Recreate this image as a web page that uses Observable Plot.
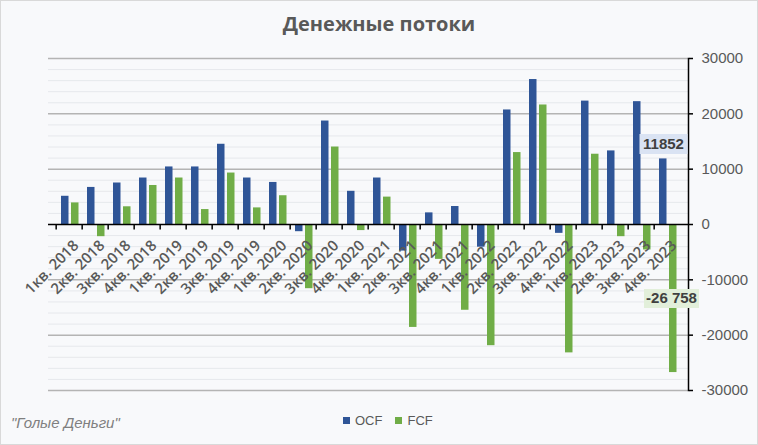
<!DOCTYPE html>
<html>
<head>
<meta charset="utf-8">
<script src="https://cdn.jsdelivr.net/npm/d3@7"></script>
<script src="https://cdn.jsdelivr.net/npm/@observablehq/plot@0.6"></script>
<style>
  html, body { margin: 0; padding: 0; background: #f8f9fb; }
  #wrap { position: relative; width: 758px; height: 445px; background: #f8f9fb; box-shadow: inset 0 0 0 1px #d9d9d9; overflow: hidden; font-family: "Liberation Sans", Arial, sans-serif; }
  #title { position: absolute; left: 0; top: 10px; width: 758px; text-align: center; font-family: "Open Sans", "Liberation Sans", sans-serif; font-weight: 700; font-size: 20px; color: #595959; line-height: 28px; }
  #chart { position: absolute; left: 0; top: 48px; }
  #source { position: absolute; left: 11px; top: 414px; font-family: "Liberation Sans Narrow", "Arial Narrow", "Liberation Sans", sans-serif; font-style: italic; font-size: 15px; color: #7f7f7f; }
  #legend { position: absolute; left: 343px; top: 413px; font-family: "Liberation Sans Narrow", "Arial Narrow", "Liberation Sans", sans-serif; font-size: 13px; color: #595959; display: flex; align-items: center; gap: 0; }
  .sw { display: inline-block; width: 7px; height: 7px; margin-right: 5px; }
  .item { display: inline-flex; align-items: center; margin-right: 13px; }
</style>
</head>
<body>
<div id="wrap">
  <div id="title">Денежные потоки</div>
  <div id="chart"></div>
  <div id="source">"Голые Деньги"</div>
  <div id="legend"></div>
</div>
<script>
const categories = ["1кв. 2018","2кв. 2018","3кв. 2018","4кв. 2018",
  "1кв. 2019","2кв. 2019","3кв. 2019","4кв. 2019",
  "1кв. 2020","2кв. 2020","3кв. 2020","4кв. 2020",
  "1кв. 2021","2кв. 2021","3кв. 2021","4кв. 2021",
  "1кв. 2022","2кв. 2022","3кв. 2022","4кв. 2022",
  "1кв. 2023","2кв. 2023","3кв. 2023","4кв. 2023"];
const ocf = [5100, 6700, 7500, 8400, 10400, 10400, 14500, 8400,
  7600, -1300, 18700, 6000, 8400, -4800, 2100, 3250,
  -4100, 20700, 26200, -1600, 22300, 13300, 22200, 11852];
const fcf = [3900, -2200, 3200, 7050, 8400, 2700, 9300, 3000,
  5200, -11600, 14000, -1100, 4950, -18600, -6300, -15500,
  -21900, 13000, 21600, -23200, 12700, -2200, -4600, -26758];
const seriesNames = ["OCF", "FCF"];
const seriesColors = ["#2f5597", "#70ad47"];
const yTicks = [-30000, -20000, -10000, 0, 10000, 20000, 30000];
const yMajorGrid = [-30000, -20000, -10000, 10000, 20000, 30000];
const yMinorGrid = [-28000, -26000, -24000, -22000, -18000, -16000, -14000, -12000,
  -8000, -6000, -4000, -2000, 2000, 4000, 6000, 8000,
  12000, 14000, 16000, 18000, 22000, 24000, 26000, 28000];
const annotations = [
  {q: "4кв. 2023", series: "OCF", value: 11852, label: "11852", box: "#dae3f3"},
  {q: "4кв. 2023", series: "FCF", value: -26758, label: "-26 758", box: "#e2efda"}
];

const rows = categories.map((q, i) => ({q, ocf: ocf[i], fcf: fcf[i]}));

const W = 758, H = 360, ML = 48, MR = 70, MT = 10, MB = 18;
const bw = (W - ML - MR) / categories.length;

const tickSymbol = { draw(ctx) { ctx.moveTo(0, 0); ctx.lineTo(0, 5); } };
const boxSymbol = (w, h) => ({ draw(ctx) { ctx.rect(-w / 2, -h / 2, w, h); } });

const ocfAnn = annotations.filter(a => a.series === "OCF");
const fcfAnn = annotations.filter(a => a.series === "FCF");

const chart = Plot.plot({
  width: W, height: H,
  marginLeft: ML, marginRight: MR, marginTop: MT, marginBottom: MB,
  style: { background: "transparent", fontFamily: "'Liberation Sans', Arial, sans-serif", overflow: "visible" },
  x: { type: "band", domain: categories, padding: 0, axis: null },
  y: { domain: [-30000, 30000], axis: null, label: null },
  marks: [
    Plot.ruleY(yMinorGrid, { stroke: "#e6e8ec", strokeWidth: 1 }),
    Plot.ruleY(yMajorGrid, { stroke: "#b4b4b4", strokeWidth: 1.5 }),
    Plot.barY(rows, { x: "q", y: "ocf", fill: seriesColors[0], insetLeft: 5, insetRight: 13.5 }),
    Plot.barY(rows, { x: "q", y: "fcf", fill: seriesColors[1], insetLeft: 15, insetRight: 3.5 }),
    Plot.ruleY([0], { stroke: "#000", strokeWidth: 1.5 }),
    Plot.dot(categories, { x: d => d, y: 0, dx: -bw / 2, symbol: tickSymbol, fill: "none", stroke: "#000", strokeWidth: 1.5 }),
    Plot.frame({ anchor: "right", stroke: "#000", strokeWidth: 1.5 }),
    Plot.axisY(yTicks, { anchor: "right", tickSize: 4, tickPadding: 9, tickFormat: d => String(d), fontSize: 15, fill: "#595959", stroke: "#000", strokeWidth: 1.5, label: null }),
    Plot.text(categories, { x: d => d, y: 0, text: d => d, rotate: -45, textAnchor: "end", lineAnchor: "bottom", dx: 10, dy: 22, fontSize: 15, fontWeight: 600, fontFamily: "'Open Sans', 'Liberation Sans', sans-serif", fill: "#595959" }),
    Plot.dot(ocfAnn, { x: "q", y: "value", dx: -4, dy: -15, symbol: a => boxSymbol(48, 20), fill: "box", stroke: "none" }),
    Plot.text(ocfAnn, { x: "q", y: "value", dx: -4, dy: -15, text: "label", fontSize: 15, fontWeight: "bold", fill: "#404040" }),
    Plot.dot(fcfAnn, { x: "q", y: a => a.value / 2, dx: 4, symbol: a => boxSymbol(55, 19), fill: "box", stroke: "none" }),
    Plot.text(fcfAnn, { x: "q", y: a => a.value / 2, dx: 4, text: "label", fontSize: 15, fontWeight: "bold", fill: "#404040" })
  ]
});
document.getElementById("chart").appendChild(chart);

const legend = document.getElementById("legend");
seriesNames.forEach((name, i) => {
  const item = document.createElement("span");
  item.className = "item";
  const sw = document.createElement("span");
  sw.className = "sw";
  sw.style.background = seriesColors[i];
  item.appendChild(sw);
  item.appendChild(document.createTextNode(name));
  legend.appendChild(item);
});
</script>
</body>
</html>
